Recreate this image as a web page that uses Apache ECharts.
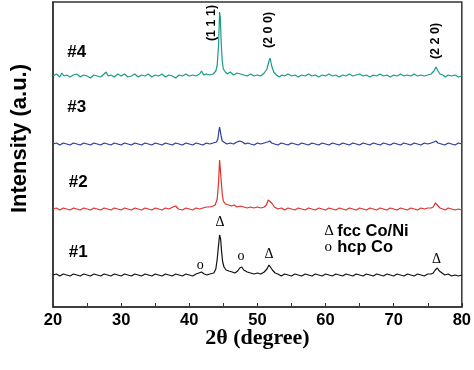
<!DOCTYPE html>
<html><head><meta charset="utf-8">
<script src="https://cdn.jsdelivr.net/npm/echarts@6/dist/echarts.min.js"></script>
<style>html,body{margin:0;padding:0;background:#fff}#c{width:474px;height:370px}</style>
</head><body><div id="c"></div>
<script>
// 2θ (degree) vs intensity (a.u., offset per sample)
const xTicks = [20, 30, 40, 50, 60, 70, 80];
const s4 = [[20,231],[20.5,233],[21,230],[21.3,234],[21.6,231],[22,232],[22.5,230],[23,232],[23.5,233],[24,230],[24.5,232],[25,231],[25.5,229],[26,232],[26.5,231],[27,230],[27.5,233],[27.8,235],[28.1,231],[28.5,232],[29,230],[29.5,233],[30,231],[30.5,233],[31,230],[31.5,231],[32,233],[32.5,230],[33,232],[33.5,231],[34,233],[34.5,230],[35,232],[35.5,231],[36,233],[36.5,230],[37,232],[37.5,231],[38,229],[38.5,232],[39,231],[39.5,233],[40,231],[40.5,232],[41,231],[41.5,233],[41.8,236],[42.1,232],[42.5,233],[43,232],[43.5,233],[43.9,236],[44.1,242],[44.3,262],[44.45,295],[44.55,290],[44.7,262],[44.85,245],[45,238],[45.3,235],[45.6,233],[46,235],[46.5,232],[47,234],[47.5,233],[48,232],[48.5,231],[49,233],[49.5,231],[50,232],[50.5,231],[51,234],[51.4,238],[51.7,246],[51.85,249],[52.1,241],[52.4,235],[52.8,232],[53.2,230],[53.6,232],[54,231],[54.5,233],[55,231],[55.5,232],[56,230],[56.5,232],[57,231],[57.5,233],[58,231],[58.5,232],[59,230],[59.5,232],[60,231],[60.5,233],[61,231],[61.5,232],[62,230],[62.5,232],[63,231],[63.5,233],[64,231],[64.5,232],[65,233],[65.5,231],[66,232],[66.5,230],[67,232],[67.5,231],[68,233],[68.5,231],[69,232],[69.5,230],[70,232],[70.5,231],[71,233],[71.5,231],[72,232],[72.5,231],[73,233],[73.5,231],[74,232],[74.5,231],[75,232],[75.5,233],[75.9,236],[76.2,240],[76.5,236],[76.8,233],[77.2,232],[77.6,230],[78,232],[78.5,231],[79,232],[79.5,230],[80,231]];
const s3 = [[20,163],[20.5,164],[21,162],[21.5,164],[22,163],[22.5,162],[23,164],[23.5,163],[24,162],[24.5,164],[25,163],[25.5,162],[26,164],[26.5,163],[27,162],[27.5,164],[28,163],[28.5,162],[29,164],[29.5,163],[30,162],[30.5,164],[31,163],[31.5,162],[32,164],[32.5,163],[33,162],[33.5,164],[34,163],[34.5,162],[35,164],[35.5,163],[36,162],[36.5,164],[37,163],[37.5,162],[38,164],[38.5,163],[39,162],[39.5,164],[40,163],[40.5,162],[41,164],[41.5,163],[42,162],[42.5,164],[43,163],[43.5,164],[44,165],[44.2,168],[44.35,176],[44.45,180],[44.55,178],[44.7,170],[44.85,166],[45.1,164],[45.5,163],[46,164],[46.5,163],[47,165],[47.4,166],[47.8,165],[48.2,163],[48.6,164],[49,163],[49.5,162],[50,164],[50.5,163],[51,164],[51.5,165],[51.8,166],[52.1,164],[52.5,163],[53,162],[53.5,164],[54,163],[54.5,162],[55,164],[55.5,163],[56,162],[56.5,164],[57,163],[57.5,162],[58,164],[58.5,163],[59,162],[59.5,164],[60,163],[60.5,162],[61,164],[61.5,163],[62,162],[62.5,164],[63,163],[63.5,162],[64,164],[64.5,163],[65,162],[65.5,164],[66,163],[66.5,162],[67,164],[67.5,163],[68,162],[68.5,164],[69,163],[69.5,162],[70,164],[70.5,163],[71,162],[71.5,164],[72,163],[72.5,162],[73,164],[73.5,163],[74,162],[74.5,164],[75,163],[75.5,164],[75.9,165],[76.2,166],[76.5,164],[77,163],[77.5,162],[78,164],[78.5,163],[79,162],[79.5,164],[80,163]];
const s2 = [[20,98],[20.5,99],[21,97],[21.5,99],[22,98],[22.5,97],[23,99],[23.5,98],[24,97],[24.5,99],[25,98],[25.5,97],[26,99],[26.5,98],[27,97],[27.5,99],[28,98],[28.5,97],[29,99],[29.5,98],[30,97],[30.5,99],[31,98],[31.5,97],[32,99],[32.5,98],[33,97],[33.5,99],[34,98],[34.5,97],[35,99],[35.5,98],[36,97],[36.5,99],[37,98],[37.6,100],[38,101],[38.4,98],[39,97],[39.5,99],[40,98],[40.5,97],[41,99],[41.5,98],[42,99],[42.5,100],[43,100],[43.5,101],[43.8,102],[44.1,108],[44.3,125],[44.45,147],[44.55,145],[44.7,125],[44.85,112],[45,106],[45.3,103],[45.8,102],[46.2,101],[46.6,102],[47,100],[47.5,101],[48,100],[48.5,99],[49,100],[49.5,99],[50,100],[50.5,99],[51,100],[51.3,102],[51.6,107],[51.8,109],[52.1,104],[52.5,100],[53,98],[53.5,99],[54,97],[54.5,99],[55,98],[55.5,97],[56,99],[56.5,98],[57,97],[57.5,99],[58,98],[58.5,97],[59,99],[59.5,98],[60,97],[60.5,99],[61,98],[61.5,97],[62,99],[62.5,98],[63,97],[63.5,99],[64,98],[64.5,97],[65,99],[65.5,98],[66,97],[66.5,99],[67,98],[67.5,97],[68,99],[68.5,98],[69,97],[69.5,99],[70,98],[70.5,97],[71,99],[71.5,98],[72,97],[72.5,99],[73,98],[73.5,97],[74,99],[74.5,98],[75,99],[75.5,99],[75.8,100],[76.1,104],[76.4,102],[76.8,99],[77.2,98],[77.6,97],[78,99],[78.5,98],[79,97],[79.5,98],[80,97]];
const s1 = [[20,32],[20.5,33],[21,31],[21.5,33],[22,32],[22.5,31],[23,33],[23.5,32],[24,31],[24.5,33],[25,32],[25.5,31],[26,33],[26.5,32],[27,31],[27.5,33],[28,32],[28.5,31],[29,33],[29.5,32],[30,31],[30.5,33],[31,32],[31.5,31],[32,33],[32.5,32],[33,31],[33.5,33],[34,32],[34.5,31],[35,33],[35.5,32],[36,31],[36.5,33],[37,32],[37.5,31],[38,33],[38.5,32],[39,31],[39.5,33],[40,32],[40.5,31],[41,33],[41.4,34],[41.8,35],[42.2,33],[42.6,32],[43,33],[43.6,34],[43.9,38],[44.1,48],[44.3,62],[44.45,72],[44.6,68],[44.75,55],[44.9,45],[45.1,40],[45.4,37],[45.8,36],[46.3,35],[46.7,34],[47.1,36],[47.4,39],[47.7,40],[48,37],[48.5,35],[49,34],[49.5,33],[50,34],[50.5,33],[51,35],[51.4,38],[51.7,42],[51.9,41],[52.2,37],[52.6,34],[53,33],[53.5,31],[54,33],[54.5,32],[55,31],[55.5,33],[56,32],[56.5,31],[57,33],[57.5,32],[58,31],[58.5,33],[59,32],[59.5,31],[60,33],[60.5,32],[61,31],[61.5,33],[62,32],[62.5,31],[63,33],[63.5,32],[64,31],[64.5,33],[65,32],[65.5,31],[66,33],[66.5,32],[67,31],[67.5,33],[68,32],[68.5,31],[69,33],[69.5,32],[70,31],[70.5,33],[71,32],[71.5,31],[72,33],[72.5,32],[73,31],[73.5,33],[74,32],[74.5,31],[75,33],[75.5,33],[75.8,34],[76.1,37],[76.4,39],[76.7,36],[77.1,34],[77.5,32],[78,33],[78.5,31],[79,32],[79.5,31],[80,32]];
const sampleNames = ['#4', '#3', '#2', '#1'];
const sampleLabelPos = [[22.1, 255], [22.1, 200], [22.3, 125], [22.3, 55]];
const hklNames = ['(1 1 1)', '(2 0 0)', '(2 2 0)'];
const hklPos = [[43.3, 284], [51.6, 277], [76.2, 266]];
const fccMarks = [[44.5, 85], [51.7, 53], [76.3, 48]];
const hcpMarks = [[41.6, 42], [47.6, 51]];
const legendTexts = ['fcc Co/Ni', 'hcp Co'];

const sans = 'Liberation Sans, Arial, sans-serif';
const serif = 'Liberation Serif, Times New Roman, serif';
const chart = echarts.init(document.getElementById('c'));

const textItems = [];
sampleNames.forEach((n, i) => textItems.push({value: sampleLabelPos[i], label: {formatter: n, fontFamily: sans, fontWeight: 'bold', fontSize: 17, align: 'left', color: '#000'}}));
hklNames.forEach((n, i) => textItems.push({value: hklPos[i], label: {formatter: n, fontFamily: sans, fontWeight: 'bold', fontSize: 12.5, rotate: 90, color: '#000'}}));
fccMarks.forEach(p => textItems.push({value: p, label: {formatter: 'Δ', fontFamily: serif, fontSize: 14, color: '#000'}}));
hcpMarks.forEach(p => textItems.push({value: p, label: {formatter: 'o', fontFamily: serif, fontSize: 14, color: '#000'}}));
textItems.push({value: [60.5, 76], label: {formatter: 'Δ', fontFamily: serif, fontSize: 15, color: '#000'}});
textItems.push({value: [60.4, 60], label: {formatter: 'o', fontFamily: serif, fontSize: 15, color: '#000'}});
textItems.push({value: [61.7, 76], label: {formatter: legendTexts[0], fontFamily: sans, fontWeight: 'bold', fontSize: 16.5, align: 'left', color: '#000'}});
textItems.push({value: [61.7, 60], label: {formatter: legendTexts[1], fontFamily: sans, fontWeight: 'bold', fontSize: 16.5, align: 'left', color: '#000'}});

const lineSeries = (data, color) => ({type: 'line', data, showSymbol: false, symbol: 'none', lineStyle: {color, width: 1.2}, animation: false, z: 3});

chart.setOption({
  animation: false,
  grid: {left: 53, right: 11, top: 2, bottom: 63, show: true, borderColor: '#333', borderWidth: 1.5},
  xAxis: {
    type: 'value', min: 20, max: 80, interval: 10,
    name: '2θ (degree)', nameLocation: 'middle', nameGap: 20, nameMoveOverlap: false,
    nameTextStyle: {fontFamily: serif, fontWeight: 'bold', fontSize: 22, color: '#000'},
    axisLine: {lineStyle: {color: '#333', width: 1.5}},
    axisTick: {inside: true, length: 4, lineStyle: {color: '#333'}},
    minorTick: {show: true, splitNumber: 2, length: 4, lineStyle: {color: '#333'}},
    axisLabel: {fontFamily: sans, fontWeight: 'bold', fontSize: 16.5, color: '#000', margin: 5},
    splitLine: {show: false}
  },
  yAxis: {
    type: 'value', min: 0, max: 305,
    name: 'Intensity (a.u.)', nameLocation: 'middle', nameGap: 22,
    nameTextStyle: {fontFamily: sans, fontWeight: 'bold', fontSize: 22, color: '#000', padding: [0, 0, 0, 32]},
    axisLine: {show: true, lineStyle: {color: '#333', width: 1.5}},
    axisTick: {show: false}, axisLabel: {show: false}, splitLine: {show: false}
  },
  series: [
    lineSeries(s4, '#1a9a88'),
    lineSeries(s3, '#2b3b9c'),
    lineSeries(s2, '#e2302b'),
    lineSeries(s1, '#111111'),
    {type: 'scatter', data: textItems, symbolSize: 0, itemStyle: {opacity: 1}, label: {show: true, position: 'inside'}, silent: true, animation: false, z: 5}
  ]
});
</script></body></html>
